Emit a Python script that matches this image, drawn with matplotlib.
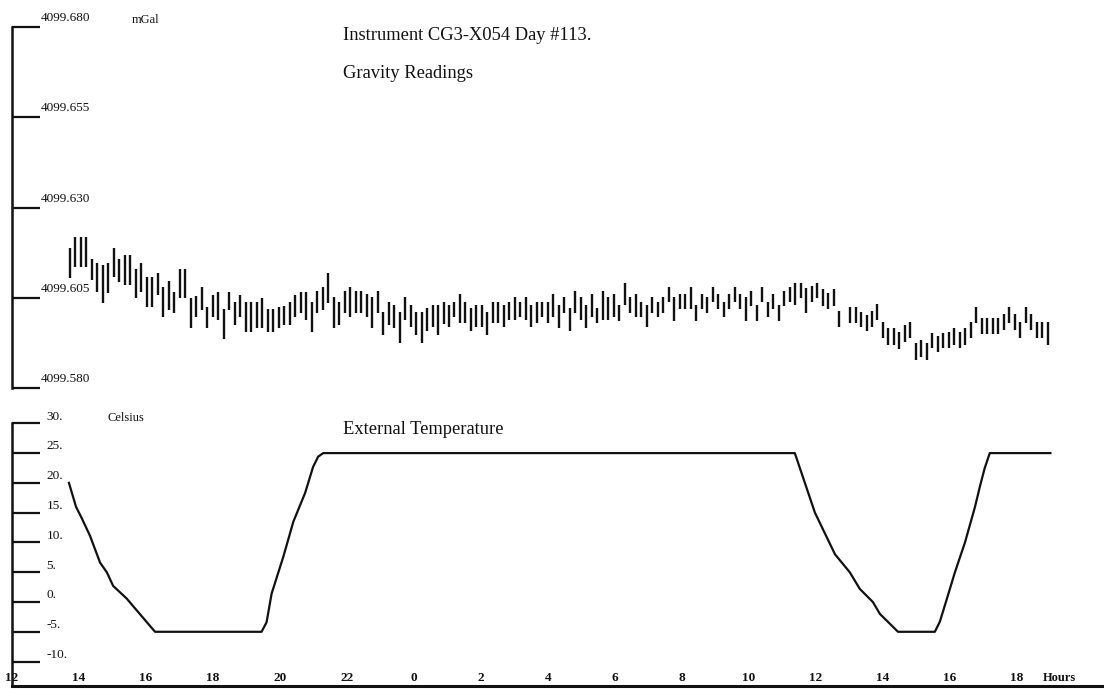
#!/usr/bin/env python3
"""
plot.py: CG3-X054 day 113, gravity readings + external temperature
Writes out.png
"""
import numpy as np
import matplotlib
matplotlib.use("Agg")
import matplotlib.pyplot as plt

# ---------- data ----------
# gravity readings: one vertical bar per reading, low..high in mGal
READ_START_H = 13.73      # first reading, hours since 00:00 of day 1
READ_STEP_H = 0.164       # reading interval (h)

grav_top = [
    4099.6189, 4099.6219, 4099.6219, 4099.6219, 4099.6158, 4099.6147, 4099.6141, 4099.6147, 4099.6189, 4099.6158,
    4099.6169, 4099.6169, 4099.6130, 4099.6147, 4099.6108, 4099.6108, 4099.6119, 4099.6080, 4099.6097, 4099.6067,
    4099.6130, 4099.6130, 4099.6050, 4099.6056, 4099.6080, 4099.6025, 4099.6058, 4099.6067, 4099.6020, 4099.6067,
    4099.6039, 4099.6058, 4099.6039, 4099.6039, 4099.6039, 4099.6050, 4099.6020, 4099.6020, 4099.6025, 4099.6028,
    4099.6039, 4099.6058, 4099.6067, 4099.6067, 4099.6039, 4099.6069, 4099.6080, 4099.6119, 4099.6053, 4099.6039,
    4099.6069, 4099.6080, 4099.6069, 4099.6069, 4099.6061, 4099.6053, 4099.6069, 4099.6011, 4099.6039, 4099.6031,
    4099.6011, 4099.6053, 4099.6031, 4099.6011, 4099.6011, 4099.6022, 4099.6031, 4099.6031, 4099.6039, 4099.6031,
    4099.6039, 4099.6061, 4099.6039, 4099.6022, 4099.6031, 4099.6031, 4099.6011, 4099.6039, 4099.6039, 4099.6031,
    4099.6039, 4099.6053, 4099.6039, 4099.6053, 4099.6031, 4099.6039, 4099.6039, 4099.6039, 4099.6061, 4099.6031,
    4099.6053, 4099.6022, 4099.6069, 4099.6053, 4099.6031, 4099.6061, 4099.6022, 4099.6069, 4099.6053, 4099.6061,
    4099.6031, 4099.6092, 4099.6053, 4099.6061, 4099.6039, 4099.6031, 4099.6053, 4099.6039, 4099.6053, 4099.6080,
    4099.6053, 4099.6061, 4099.6061, 4099.6080, 4099.6031, 4099.6061, 4099.6053, 4099.6080, 4099.6061, 4099.6039,
    4099.6061, 4099.6080, 4099.6061, 4099.6053, 4099.6069, 4099.6031, 4099.6080, 4099.6039, 4099.6061, 4099.6031,
    4099.6069, 4099.6080, 4099.6092, 4099.6092, 4099.6078, 4099.6083, 4099.6092, 4099.6075, 4099.6064, 4099.6075,
    4099.6014, None,      4099.6025, 4099.6025, 4099.6011, 4099.6003, 4099.6014, 4099.6033, 4099.5984, 4099.5967,
    4099.5967, 4099.5956, 4099.5975, 4099.5984, 4099.5925, 4099.5934, 4099.5925, 4099.5953, 4099.5945, 4099.5953,
    4099.5956, 4099.5967, 4099.5956, 4099.5967, 4099.5984, 4099.6025, 4099.5994, 4099.5994, 4099.5994, 4099.5994,
    4099.6006, 4099.6025, 4099.6006, 4099.5984, 4099.6025, 4099.6006, 4099.5984, 4099.5984, 4099.5984,
]
grav_bot = [
    4099.6105, 4099.6136, 4099.6136, 4099.6136, 4099.6100, 4099.6067, 4099.6036, 4099.6064, 4099.6108, 4099.6094,
    4099.6086, 4099.6086, 4099.6050, 4099.6067, 4099.6025, 4099.6025, 4099.6058, 4099.5997, 4099.6017, 4099.6008,
    4099.6050, 4099.6050, 4099.5967, 4099.5997, 4099.6017, 4099.5967, 4099.5997, 4099.5989, 4099.5936, 4099.6017,
    4099.5975, 4099.5997, 4099.5956, 4099.5956, 4099.5967, 4099.5967, 4099.5956, 4099.5956, 4099.5967, 4099.5975,
    4099.5975, 4099.5997, 4099.6008, 4099.5989, 4099.5956, 4099.6008, 4099.6017, 4099.6036, 4099.5967, 4099.5975,
    4099.6008, 4099.5997, 4099.6008, 4099.6008, 4099.5997, 4099.5967, 4099.6008, 4099.5948, 4099.5975, 4099.5967,
    4099.5925, 4099.5989, 4099.5970, 4099.5948, 4099.5925, 4099.5959, 4099.5970, 4099.5948, 4099.5978, 4099.5970,
    4099.5997, 4099.5981, 4099.5981, 4099.5959, 4099.5970, 4099.5970, 4099.5948, 4099.5981, 4099.5981, 4099.5970,
    4099.5989, 4099.5989, 4099.5997, 4099.5989, 4099.5970, 4099.5981, 4099.5997, 4099.5981, 4099.5997, 4099.5967,
    4099.6008, 4099.5959, 4099.6008, 4099.5989, 4099.5967, 4099.5997, 4099.5981, 4099.5989, 4099.5989, 4099.5997,
    4099.5986, 4099.6031, 4099.6008, 4099.5997, 4099.5997, 4099.5970, 4099.6008, 4099.5997, 4099.6008, 4099.6039,
    4099.5986, 4099.6020, 4099.6020, 4099.6020, 4099.5986, 4099.6020, 4099.6008, 4099.6039, 4099.6020, 4099.5997,
    4099.6020, 4099.6039, 4099.6020, 4099.5986, 4099.6028, 4099.5986, 4099.6039, 4099.5997, 4099.6020, 4099.5986,
    4099.6028, 4099.6039, 4099.6031, 4099.6050, 4099.6008, 4099.6039, 4099.6050, 4099.6028, 4099.6020, 4099.6028,
    4099.5970, None,      4099.5981, 4099.5981, 4099.5970, 4099.5959, 4099.5970, 4099.5989, 4099.5939, 4099.5920,
    4099.5920, 4099.5909, 4099.5928, 4099.5939, 4099.5878, 4099.5887, 4099.5878, 4099.5911, 4099.5900, 4099.5911,
    4099.5911, 4099.5920, 4099.5911, 4099.5920, 4099.5939, 4099.5981, 4099.5950, 4099.5950, 4099.5950, 4099.5950,
    4099.5961, 4099.5981, 4099.5961, 4099.5939, 4099.5981, 4099.5961, 4099.5939, 4099.5939, 4099.5920,
]

# external temperature, hours since 00:00 of day 1 / degrees C
temp_hours = [13.70, 13.91, 14.08, 14.33, 14.63, 14.83, 15.02, 15.42, 16.27,
              19.45, 19.60, 19.75, 20.10, 20.40, 20.75, 20.99, 21.14, 21.29,
              35.37, 35.52, 35.76, 35.97, 36.27, 36.57, 37.01, 37.31, 37.70, 37.91, 38.45,
              39.55, 39.70, 39.88, 40.15, 40.45, 40.75, 40.90, 41.04, 41.19, 43.00]
temp_c = [20.0, 16.0, 14.1, 11.1, 6.6, 5.0, 2.7, 0.6, -5.0,
          -5.0, -3.4, 1.4, 7.6, 13.5, 18.3, 22.7, 24.4, 25.0,
          25.0, 22.5, 18.5, 15.0, 11.5, 8.0, 5.0, 2.2, 0.0, -2.0, -5.0,
          -5.0, -3.3, 0.0, 5.0, 10.0, 16.0, 19.5, 22.5, 25.0, 25.0]

grav_ticks = [4099.580, 4099.605, 4099.630, 4099.655, 4099.680]
temp_ticks = [-10, -5, 0, 5, 10, 15, 20, 25, 30]
hour_ticks = list(range(12, 43, 2))

# ---------- layout (pixels of the 1104x689 picture) ----------
W, H = 1104, 689
X0_H, X1_H = 12.0, 44.6
SERIF = "Liberation Serif"
INK = "#111111"


def px_axes(fig, left, top, right, bottom):
    return fig.add_axes([left / W, 1 - bottom / H, (right - left) / W, (bottom - top) / H])


def left_axis(ax, ticks, fmt, dx, dy):
    for side in ["top", "right", "bottom"]:
        ax.spines[side].set_visible(False)
    ax.spines["left"].set_linewidth(1.8)
    ax.spines["left"].set_color(INK)
    ax.set_yticks(ticks)
    ax.tick_params(axis="y", direction="in", length=20, width=1.6, color=INK, labelleft=False)
    ax.set_xticks([])
    for v in ticks:
        ax.annotate(fmt(v), xy=(0, v), xycoords=ax.get_yaxis_transform(),
                    xytext=(dx, dy), textcoords="offset points",
                    ha="left", va="bottom", fontsize=9.5, family=SERIF, color=INK)


def main():
    fig = plt.figure(figsize=(W / 100, H / 100), dpi=100)

    # ---------- gravity panel ----------
    ax_g = px_axes(fig, 12, 27, W, 388)
    ax_g.set_xlim(X0_H, X1_H)
    ax_g.set_ylim(4099.580, 4099.680)
    left_axis(ax_g, grav_ticks, lambda v: f"{v:.3f}", 20.5, 2)

    top = np.array(grav_top, dtype=float)
    bot = np.array(grav_bot, dtype=float)
    hrs = READ_START_H + READ_STEP_H * np.arange(len(top))
    ok = ~np.isnan(top)
    ax_g.vlines(hrs[ok], bot[ok], top[ok], colors=INK, linewidth=1.7)

    # ---------- temperature panel ----------
    ax_t = px_axes(fig, 12, 423.3, W, 686)
    ax_t.set_xlim(X0_H, X1_H)
    ax_t.set_ylim(-14.1, 30)
    left_axis(ax_t, temp_ticks, lambda v: f"{v}.", 25, 0.5)
    ax_t.spines["bottom"].set_visible(True)
    ax_t.spines["bottom"].set_linewidth(2.2)
    ax_t.spines["bottom"].set_color(INK)
    ax_t.plot(temp_hours, temp_c, color=INK, linewidth=1.6, solid_joinstyle="round")

    for h in hour_ticks:
        ax_t.annotate(str(h % 24), xy=(h, 0), xycoords=ax_t.get_xaxis_transform(),
                      xytext=(0, 1.5), textcoords="offset points", ha="center", va="bottom",
                      fontsize=9.5, family=SERIF, weight="bold", color=INK)
    ax_t.annotate("Hours", xy=(43.28, 0), xycoords=ax_t.get_xaxis_transform(),
                  xytext=(0, 1.5), textcoords="offset points", ha="center", va="bottom",
                  fontsize=9, family=SERIF, weight="bold", color=INK)

    # ---------- text ----------
    fig.text(132 / W, 1 - 23 / H, "mGal", fontsize=9, family=SERIF, color=INK, va="baseline")
    fig.text(108 / W, 1 - 421 / H, "Celsius", fontsize=9, family=SERIF, color=INK, va="baseline")
    fig.text(343 / W, 1 - 40 / H, "Instrument CG3-X054 Day #113.", fontsize=13.3,
             family=SERIF, color=INK, va="baseline")
    fig.text(343 / W, 1 - 78 / H, "Gravity Readings", fontsize=13.3,
             family=SERIF, color=INK, va="baseline")
    fig.text(343 / W, 1 - 434 / H, "External Temperature", fontsize=13.3,
             family=SERIF, color=INK, va="baseline")

    fig.savefig("out.png", dpi=100, facecolor="white")
    plt.close(fig)


if __name__ == "__main__":
    main()
